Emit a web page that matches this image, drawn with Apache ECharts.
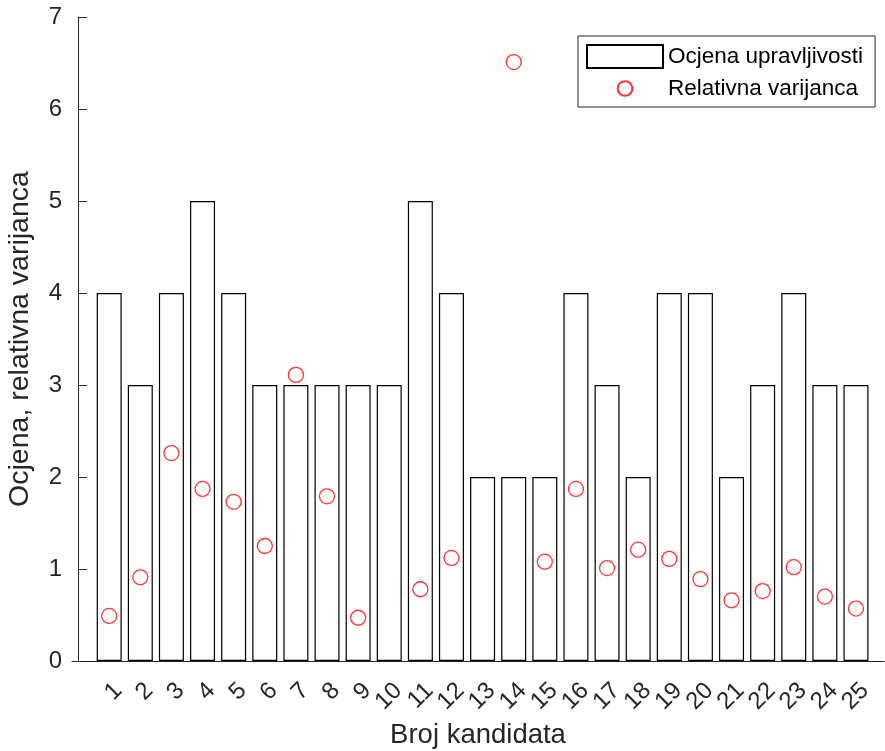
<!DOCTYPE html>
<html><head><meta charset="utf-8">
<script src="https://cdn.jsdelivr.net/npm/echarts@6/dist/echarts.min.js"></script>
<style>html,body{margin:0;padding:0;background:#fff}#c{width:885px;height:751px}</style>
</head><body><div id="c"></div>
<script>
const candidates = [1,2,3,4,5,6,7,8,9,10,11,12,13,14,15,16,17,18,19,20,21,22,23,24,25];
const xTickLabels = ['1','2','3','4','5','6','7','8','9','10','11','12','13','14','15','16','17','18','19','20','21','22','23','24','25'];
const upravljivost = [4,3,4,5,4,3,3,3,3,3,5,4,2,2,2,4,3,2,4,4,2,3,4,3,3];
const varijanca = [0.49,0.91,2.26,1.87,1.73,1.25,3.11,1.79,0.47,null,0.78,1.12,null,6.51,1.08,1.87,1.01,1.21,1.11,0.89,0.66,0.76,1.02,0.70,0.57];
const yTickLabels = ['0','1','2','3','4','5','6','7'];
const seriesNames = ['Ocjena upravljivosti','Relativna varijanca'];
const axisNames = {x:'Broj kandidata', y:'Ocjena, relativna varijanca'};

const FONT = '"Liberation Sans", Arial, Helvetica, sans-serif';
const INK = '#262626';
const labelShift = 0.29;
const X_MIN = -0.195, X_MAX = 25.9;

const barData = candidates.map((c,i)=>[c, upravljivost[i]]);
const scatData = candidates.map((c,i)=>[c, varijanca[i]]).filter(d=>d[1]!==null);
const circleIcon = 'path://M0,0M100,100M50,18A32,32,0,1,1,50,82A32,32,0,1,1,50,18Z';

const chart = echarts.init(document.getElementById('c'), null, {renderer:'canvas'});
chart.setOption({
  animation:false,
  backgroundColor:'#fff',
  textStyle:{fontFamily:FONT},
  grid:{left:72,right:1,top:17,bottom:90,containLabel:false,outerBoundsMode:'none'},
  xAxis:{
    type:'value', min:X_MIN, max:X_MAX,
    name:axisNames.x, nameLocation:'middle', nameGap:60, nameMoveOverlap:false,
    nameTextStyle:{fontSize:27.5,color:INK,fontFamily:FONT},
    axisLine:{show:true,lineStyle:{color:INK,width:1}},
    axisTick:{show:false},
    splitLine:{show:false},
    axisLabel:{
      customValues:[X_MIN].concat(candidates.map(c=>c+labelShift)).concat([X_MAX]),
      formatter:(v)=>xTickLabels[Math.round(v-labelShift)-1] || ' ',
      hideOverlap:false,
      rotate:45, margin:26, fontSize:24, color:INK, fontFamily:FONT
    }
  },
  yAxis:{
    type:'value', min:0, max:7, interval:1,
    name:axisNames.y, nameLocation:'middle', nameGap:37, nameMoveOverlap:false,
    nameTextStyle:{fontSize:28.5,color:INK,fontFamily:FONT},
    axisLine:{show:true,lineStyle:{color:INK,width:1}},
    axisTick:{show:true,inside:true,length:9,lineStyle:{color:INK}},
    splitLine:{show:false},
    axisLabel:{margin:10,fontSize:24,color:INK,fontFamily:FONT,formatter:(v)=>yTickLabels[v]}
  },
  legend:{
    orient:'vertical', left:578, top:36,
    padding:[8,12,6,8], itemGap:7, itemWidth:76, itemHeight:23,
    borderColor:INK, borderWidth:1, backgroundColor:'#fff',
    textStyle:{fontSize:22.5,color:'#000',fontFamily:FONT},
    data:[{name:seriesNames[0],icon:'rect'},{name:seriesNames[1],icon:circleIcon}]
  },
  series:[
    {name:seriesNames[0], type:'bar', data:barData, barWidth:25,
     itemStyle:{color:'#fff',borderColor:'#000',borderWidth:1.2}},
    {name:seriesNames[1], type:'scatter', data:scatData, symbol:'circle', symbolSize:15,
     itemStyle:{color:'rgba(255,255,255,0)',borderColor:'#ff0000',borderWidth:1.3}, z:5}
  ]
});
</script></body></html>
